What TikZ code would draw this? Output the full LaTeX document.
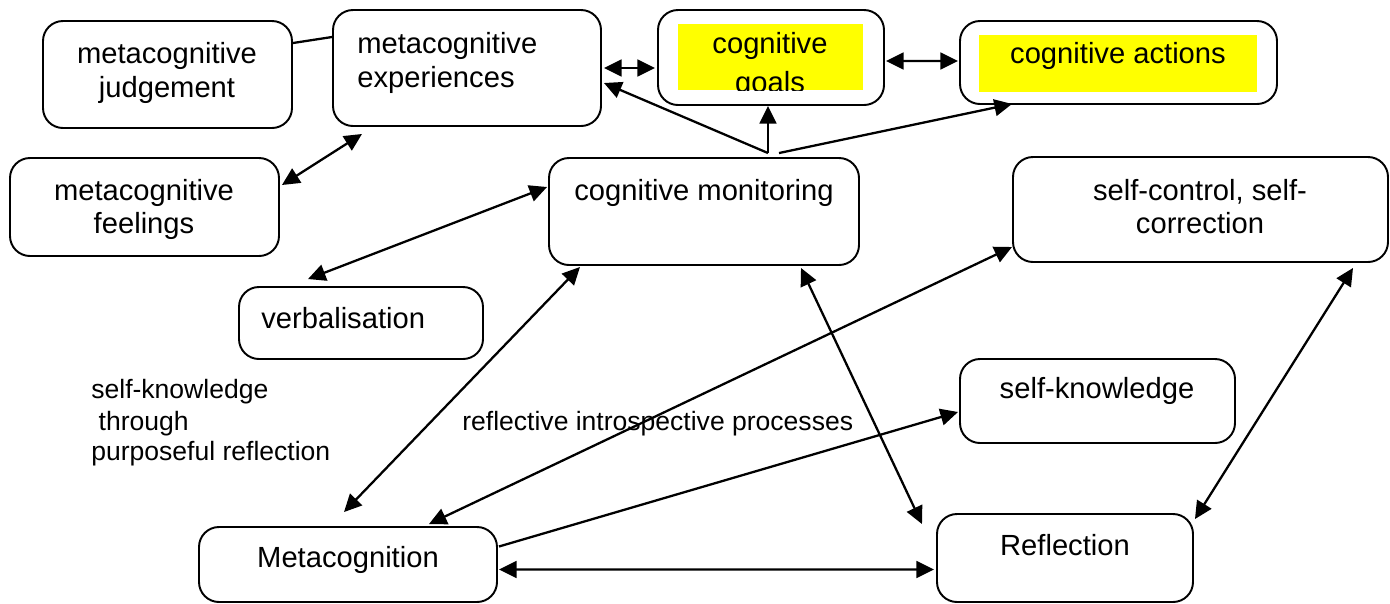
\documentclass[tikz,border=0pt]{standalone}
\usepackage{fontspec}
\setmainfont{Liberation Sans}
\usetikzlibrary{fit,arrows.meta}
\begin{document}
\begin{tikzpicture}[x=0.02cm,y=-0.02cm,
  box/.style={draw, line width=1.1pt, rounded corners=0.4cm, inner sep=0pt},
  lbl/.style={anchor=base, inner sep=0pt, font=\fontsize{16.6}{19}\selectfont},
  lbll/.style={lbl, anchor=base west},
  note/.style={anchor=base west, inner sep=0pt, font=\fontsize{15.1}{17}\selectfont},
  con/.style={line width=1.3pt},
  tip/.tip={Triangle[length=10pt,width=9.5pt]},
  one/.style={con, -tip},
  two/.style={con, tip-tip},
  hl/.style={fill={rgb,255:red,255;green,255;blue,0}, draw=none},
]
\useasboundingbox (0,0) rectangle (1390,603);

% boxes
\node[box, fit={(43,21) (292,128)}] (judg) {};
\node[box, fit={(333,10) (601,126)}] (exp) {};
\node[box, fit={(658,10) (884,105)}] (goals) {};
\node[box, fit={(960,21) (1277,104)}] (act) {};
\node[box, fit={(10,158) (279,256)}] (feel) {};
\node[box, fit={(549,158) (859,265)}] (mon) {};
\node[box, fit={(1013,157) (1388,262)}] (sc) {};
\node[box, fit={(239,287) (483,359)}] (verb) {};
\node[box, fit={(960,359) (1235,443)}] (sk) {};
\node[box, fit={(199,527) (497,602)}] (meta) {};
\node[box, fit={(937,514) (1193,602)}] (refl) {};

% yellow highlights
\fill[hl] (678,24) rectangle (863,90);
\fill[hl] (979,35) rectangle (1257,92);

% texts
\node[lbl] (tj1) at (167,63) {metacognitive};
\node[lbl] (tj2) at (167,97) {judgement};
\node[lbll] (te1) at (357,53) {metacognitive};
\node[lbll] (te2) at (357,87) {experiences};
\begin{scope}
  \clip (678,24) rectangle (863,90);
  \node[lbl] (tg1) at (770,53) {cognitive};
  \node[lbl] (tg2) at (770,92) {goals};
\end{scope}
\node[lbl] (ta) at (1118,63) {cognitive actions};
\node[lbl] (tf1) at (144,200) {metacognitive};
\node[lbl] (tf2) at (144,233) {feelings};
\node[lbl] (tm) at (704,200) {cognitive monitoring};
\node[lbl] (ts1) at (1200,200) {self-control, self-};
\node[lbl] (ts2) at (1200,233) {correction};
\node[lbll] (tv) at (261,328) {verbalisation};
\node[lbl] (tk) at (1097,398) {self-knowledge};
\node[lbl] (tmc) at (348,567) {Metacognition};
\node[lbl] (tr) at (1065,555) {Reflection};
\node[note] (n1) at (91,398) {self-knowledge};
\node[note] (n2) at (91,430) {\ through};
\node[note] (n3) at (91,460) {purposeful reflection};
\node[note] (n4) at (462,430) {reflective introspective processes};

% connectors
\draw[con] ([shift={(0,-31.5)}]judg.east) -- ([shift={(0,-31)}]exp.west);
\draw[two] ([shift={(2,0)}]exp.east) -- ([shift={(-2,10.5)}]goals.west);
\draw[two] ([shift={(1,3.5)}]goals.east) -- ([shift={(-1,-1.5)}]act.west);
\draw[one] ([shift={(64,-4)}]mon.north) -- ([shift={(2,15)}]exp.east);
\draw[one] ([shift={(64,-4)}]mon.north) -- ([shift={(-3,0)}]goals.south);
\draw[one] ([shift={(75,-4)}]mon.north) -- ([shift={(-106.5,-1)}]act.south);
\draw[two] ([shift={(2,-22)}]feel.east) -- ([shift={(-105,7)}]exp.south);
\draw[two] ([shift={(-53,-7)}]verb.north) -- ([shift={(-1,-24.5)}]mon.west);
\draw[two] ([shift={(-124,1)}]mon.south) -- ([shift={(-4,-14)}]meta.north);
\draw[two] ([shift={(0,37.5)}]sc.west) -- ([shift={(81,-2)}]meta.north);
\draw[one] ([shift={(1,-18)}]meta.east) -- ([shift={(-1,11)}]sk.west);
\draw[two] ([shift={(1,5)}]meta.east) -- ([shift={(-2,11.5)}]refl.west);
\draw[two] ([shift={(97,2)}]mon.south) -- ([shift={(-143,11)}]refl.north);
\draw[two] ([shift={(152.5,5)}]sc.south) -- ([shift={(1,6)}]refl.north east);
\end{tikzpicture}
\end{document}
